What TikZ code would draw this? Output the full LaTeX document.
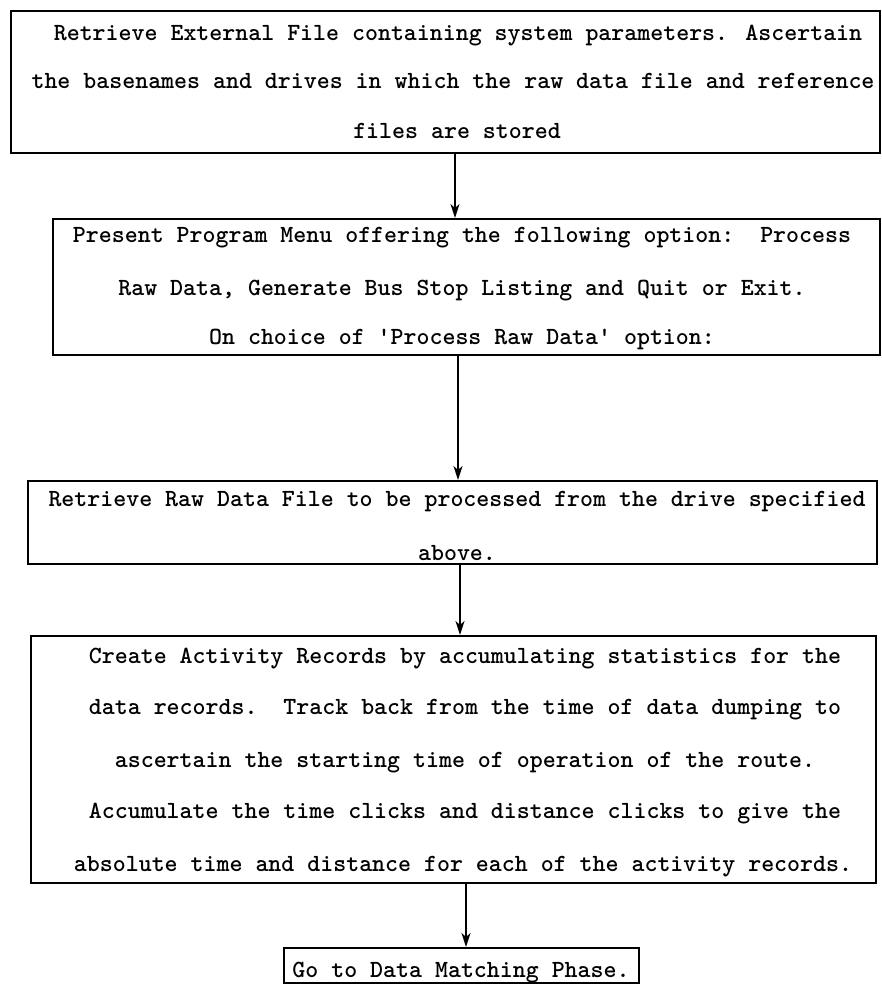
\documentclass[tikz,border=0pt]{standalone}
\usetikzlibrary{arrows.meta}
\begin{document}
\begin{tikzpicture}[x=1pt,y=-1pt,
  box/.style={draw, line width=1.8pt, inner sep=0pt, anchor=north west},
  txt/.style={anchor=base, inner sep=0pt, font=\fontsize{24.7}{30}\selectfont\ttfamily\bfseries},
  arr/.style={line width=1.5pt, -{Stealth[length=14pt,width=9pt,inset=4pt]}}]
\useasboundingbox (0,0) rectangle (881,985);
% boxes
\node[box, minimum width=869pt, minimum height=142pt] (b1) at (10,10) {};
\node[box, minimum width=827pt, minimum height=136pt] (b2) at (52,218) {};
\node[box, minimum width=849pt, minimum height=83pt] (b3) at (27,480) {};
\node[box, minimum width=845pt, minimum height=247pt] (b4) at (30,635) {};
\node[box, minimum width=355pt, minimum height=35pt] (b5) at (283,947) {};
% texts
\node[txt] (t1a) at (458,40) {Retrieve External File containing system parameters. Ascertain};
\node[txt] (t1b) at (453,88) {the basenames and drives in which the raw data file and reference};
\node[txt] (t1c) at (457,138) {files are stored};
\node[txt] (t2a) at (462,242) {Present Program Menu offering the following option:\ \ Process};
\node[txt] (t2b) at (462,295) {Raw Data, Generate Bus Stop Listing and Quit or Exit.};
\node[txt] (t2c) at (462,344) {On choice of \textquotesingle Process Raw Data\textquotesingle{} option:};
\node[txt] (t3a) at (457,506) {Retrieve Raw Data File to be processed from the drive specified};
\node[txt] (t3b) at (457,560) {above.};
\node[txt] (t4a) at (465,663) {Create Activity Records by accumulating statistics for the};
\node[txt] (t4b) at (465,714) {data records.\ \ Track back from the time of data dumping to};
\node[txt] (t4c) at (465,767) {ascertain the starting time of operation of the route.};
\node[txt] (t4d) at (465,818) {Accumulate the time clicks and distance clicks to give the};
\node[txt] (t4e) at (463,871) {absolute time and distance for each of the activity records.};
\node[txt] (t5a) at (461,977) {Go to Data Matching Phase.};
% connector x positions
\coordinate (x1) at (455,0);
\coordinate (x2) at (458,0);
\coordinate (x3) at (460,0);
\coordinate (x4) at (466,0);
\draw[arr] (b1.south -| x1) -- (b2.north -| x1);
\draw[arr] (b2.south -| x2) -- (b3.north -| x2);
\draw[arr] (b3.south -| x3) -- (b4.north -| x3);
\draw[arr] (b4.south -| x4) -- (b5.north -| x4);
\end{tikzpicture}
\end{document}
